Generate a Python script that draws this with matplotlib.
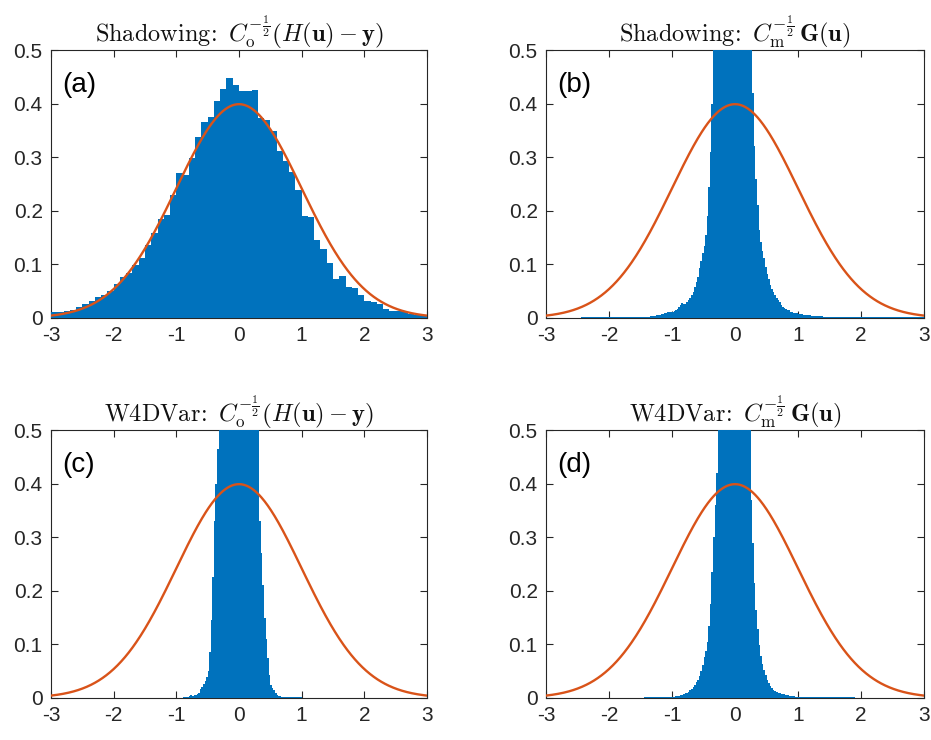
import numpy as np
import matplotlib
matplotlib.use("Agg")
import matplotlib.pyplot as plt

plt.rcParams["font.family"] = ["Liberation Sans", "DejaVu Sans"]
plt.rcParams["mathtext.fontset"] = "cm"
plt.rcParams["axes.unicode_minus"] = False

BLUE = "#0072BD"
RED = "#D95319"

# reference density drawn over every panel (standard normal)
curve_mu = 0.0
curve_sigma = 1.0

# ---- panel (a): bins of 0.1 from -3 to 3 ----
a_lo, a_width = -3.0, 0.1
a_heights = [0.011, 0.012, 0.013, 0.014, 0.0205, 0.026, 0.032, 0.0385, 0.0435, 0.050,
             0.063, 0.076, 0.084, 0.099, 0.112, 0.136, 0.159, 0.184, 0.193, 0.229,
             0.2705, 0.267, 0.298, 0.338, 0.366, 0.375, 0.405, 0.427, 0.448, 0.435,
             0.4235, 0.4235, 0.425, 0.374, 0.369, 0.349, 0.3115, 0.292, 0.273, 0.239,
             0.190, 0.188, 0.1455, 0.129, 0.103, 0.073, 0.078, 0.058, 0.056, 0.043,
             0.032, 0.029, 0.027, 0.017, 0.013, 0.013, 0.0105, 0.0075, 0.0056, 0.0044]
a_tails = []

# ---- panel (b): bins of 0.025 from -1.5 to 1.5 (centre clipped above 0.5) ----
b_lo, b_width = -1.5, 0.025
b_heights = [0.001, 0.001, 0.0015, 0.002, 0.002, 0.0025, 0.003, 0.003, 0.0035, 0.004,
             0.005, 0.006, 0.006, 0.007, 0.008, 0.009, 0.010, 0.011, 0.011, 0.012,
             0.012, 0.013, 0.014, 0.016, 0.020, 0.024, 0.028, 0.027, 0.026, 0.029,
             0.033, 0.037, 0.042, 0.049, 0.057, 0.067, 0.077, 0.093, 0.106, 0.122,
             0.135, 0.155, 0.19, 0.245, 0.31, 0.40,
             0.55, 0.65, 0.75, 0.85, 0.95, 1.03, 1.10, 1.17, 1.22, 1.27, 1.30, 1.32, 1.33,
             1.32, 1.30, 1.26, 1.21, 1.14, 1.06, 0.97, 0.88, 0.79, 0.70, 0.62, 0.54,
             0.42, 0.32, 0.26, 0.21, 0.165, 0.142, 0.125, 0.112, 0.096, 0.082,
             0.072, 0.061, 0.054, 0.049, 0.043, 0.038, 0.034, 0.030, 0.025, 0.021,
             0.018, 0.017, 0.015, 0.014, 0.012, 0.011, 0.010, 0.009, 0.009, 0.008,
             0.007, 0.007, 0.006, 0.006, 0.0055, 0.005, 0.005, 0.0045, 0.004, 0.004,
             0.0035, 0.0035, 0.003, 0.003, 0.003, 0.0025, 0.0025, 0.002, 0.002]
b_tails = [(-2.45, -1.5, 0.0015), (1.5, 3.0, 0.0015)]

# ---- panel (c): bins of 0.025 from -0.9 to 1.0 ----
c_lo, c_width = -0.9, 0.025
c_heights = [0.001, 0.001, 0.0015, 0.002, 0.003, 0.006, 0.004, 0.005,
             0.006, 0.008, 0.009, 0.016, 0.020, 0.026, 0.032, 0.040, 0.050, 0.085,
             0.145, 0.225, 0.33, 0.40, 0.465,
             0.6, 0.8, 1.0, 1.2, 1.4, 1.55, 1.7, 1.8, 1.9, 1.95, 2.0, 2.0, 2.0,
             2.0, 1.95, 1.9, 1.8, 1.7, 1.55, 1.4, 1.2, 1.0, 0.85, 0.7, 0.6, 0.52,
             0.33, 0.27, 0.21, 0.15, 0.11, 0.074, 0.043, 0.025, 0.019, 0.015,
             0.010, 0.006, 0.004, 0.003, 0.002, 0.002,
             0.001, 0.001, 0.001, 0.001, 0.001, 0.001, 0.001, 0.001, 0.001, 0.001, 0.001]
c_tails = []

# ---- panel (d): bins of 0.025 from -1.0 to 1.0 ----
d_lo, d_width = -1.0, 0.025
d_heights = [0.002, 0.0025, 0.003, 0.0035, 0.004, 0.005, 0.006, 0.007, 0.009, 0.010,
             0.012, 0.014, 0.017, 0.020, 0.024, 0.029, 0.034, 0.041, 0.050, 0.062,
             0.076, 0.088, 0.105, 0.135, 0.175, 0.235, 0.30, 0.36, 0.42,
             0.55, 0.8, 1.05, 1.3, 1.5, 1.7, 1.85, 1.95, 2.05, 2.1, 2.1,
             2.1, 2.05, 1.95, 1.85, 1.7, 1.5, 1.3, 1.05, 0.8, 0.6,
             0.37, 0.29, 0.215, 0.165, 0.128, 0.098, 0.078, 0.064, 0.052, 0.042,
             0.034, 0.028, 0.023, 0.019, 0.015, 0.013, 0.011, 0.010, 0.009, 0.008,
             0.0075, 0.007, 0.006, 0.005, 0.0045, 0.004, 0.0035, 0.003, 0.0025, 0.002]
d_tails = [(-1.45, -1.0, 0.0015), (1.0, 1.9, 0.0015)]

titles = [
    r"$\mathrm{Shadowing\!:}\ C_{\mathrm{o}}^{-\frac{1}{2}}\left(H(\mathbf{u})-\mathbf{y}\right)$",
    r"$\mathrm{Shadowing\!:}\ C_{\mathrm{m}}^{-\frac{1}{2}}\,\mathbf{G}(\mathbf{u})$",
    r"$\mathrm{W4DVar\!:}\ C_{\mathrm{o}}^{-\frac{1}{2}}\left(H(\mathbf{u})-\mathbf{y}\right)$",
    r"$\mathrm{W4DVar\!:}\ C_{\mathrm{m}}^{-\frac{1}{2}}\,\mathbf{G}(\mathbf{u})$",
]
panel_labels = ["(a)", "(b)", "(c)", "(d)"]
panels = [(a_lo, a_width, a_heights, a_tails),
          (b_lo, b_width, b_heights, b_tails),
          (c_lo, c_width, c_heights, c_tails),
          (d_lo, d_width, d_heights, d_tails)]

# axes boxes [left, bottom, width, height] in figure fraction
boxes = [[0.0548, 0.5703, 0.4038, 0.3621],
         [0.5865, 0.5703, 0.4060, 0.3621],
         [0.0548, 0.0568, 0.4038, 0.3621],
         [0.5865, 0.0568, 0.4060, 0.3621]]

fig = plt.figure(figsize=(9.31, 7.40), dpi=100)

x_curve = np.linspace(-3, 3, 601)
y_curve = np.exp(-0.5 * ((x_curve - curve_mu) / curve_sigma) ** 2) / (curve_sigma * np.sqrt(2 * np.pi))

for box, title, label, (lo, width, heights, tails) in zip(boxes, titles, panel_labels, panels):
    ax = fig.add_axes(box)
    edges = lo + width * np.arange(len(heights) + 1)
    ax.stairs(heights, edges, fill=True, color=BLUE, linewidth=0, zorder=3)
    for t0, t1, h in tails:
        ax.stairs([h], [t0, t1], fill=True, color=BLUE, linewidth=0, zorder=3)
    ax.plot(x_curve, y_curve, color=RED, lw=1.7, zorder=4)

    ax.set_xlim(-3, 3)
    ax.set_ylim(0, 0.5)
    ax.set_xticks(range(-3, 4))
    ax.set_yticks([0, 0.1, 0.2, 0.3, 0.4, 0.5])
    ax.set_yticklabels(["0", "0.1", "0.2", "0.3", "0.4", "0.5"])
    ax.tick_params(direction="in", top=True, right=True, length=5, width=0.8,
                   labelsize=15, colors="#262626", pad=6)
    for sp in ax.spines.values():
        sp.set_color("#262626")
        sp.set_linewidth(0.8)
    ax.set_title(title, fontsize=17.5, pad=6, color="#111111")
    ax.text(0.03, 0.87, label, transform=ax.transAxes, fontsize=20,
            ha="left", va="center", color="black", zorder=5)

fig.savefig("out.png", dpi=100)
